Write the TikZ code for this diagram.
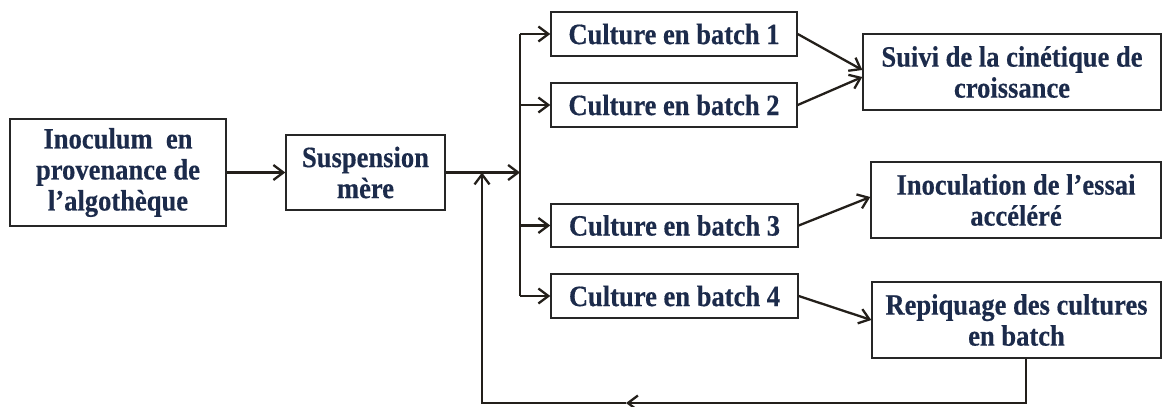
\documentclass[tikz,border=0pt]{standalone}
\usepackage{fontspec}
\setmainfont{Liberation Serif}[FakeStretch=0.9, BoldFeatures={FakeBold=0.4}]
\usetikzlibrary{arrows.meta,calc}
\definecolor{txt}{HTML}{1C2B4B}
\definecolor{ln}{HTML}{231F1A}
\begin{document}
\begin{tikzpicture}[x=1pt,y=-1pt,
  box/.style={draw=black!85, line width=1.4pt, fill=white, inner sep=0pt, align=center, text=txt, font=\fontsize{29.5}{31}\selectfont\bfseries},
  conn/.style={draw=ln, line width=2.3pt},
  arr/.style={conn, -{Straight Barb[length=10pt,width=15pt,line width=2.3pt]}}]
\useasboundingbox (0,0) rectangle (1163,407);
\node[box, minimum width=216pt, minimum height=107pt] (inoc) at (118,172.5) {Inoculum~ en\\provenance de\\l’algothèque};
\node[box, minimum width=159pt, minimum height=75pt] (susp) at (365.5,172.5) {Suspension\\mère};
\node[box, minimum width=246pt, minimum height=44pt] (b1) at (674,34) {Culture en batch 1};
\node[box, minimum width=246pt, minimum height=44pt] (b2) at (674,105) {Culture en batch 2};
\node[box, minimum width=247pt, minimum height=43pt] (b3) at (674.5,225.5) {Culture en batch 3};
\node[box, minimum width=247pt, minimum height=44pt] (b4) at (674.5,296) {Culture en batch 4};
\node[box, minimum width=298pt, minimum height=76pt] (suivi) at (1012,72) {Suivi de la cinétique de\\croissance};
\node[box, minimum width=290pt, minimum height=76pt] (inocul) at (1016,200) {Inoculation de l’essai\\accéléré};
\node[box, minimum width=289pt, minimum height=76pt] (repiq) at (1016.5,320) {Repiquage des cultures\\en batch};
\coordinate (tr) at (520,172.5);
\draw[arr] (inoc) -- (susp);
\draw[arr] (susp) -- (tr);
\draw[conn] (b1.west -| tr) -- (b4.west -| tr);
\foreach \b in {b1,b2,b3,b4} \draw[arr] (\b.west -| tr) -- (\b.west);
\draw[arr] (b1.east) -- ($(suivi.west)+(0,-2)$);
\draw[arr] (b2.east) -- ($(suivi.west)+(0,5)$);
\draw[arr] (b3.east) -- ($(inocul.west)+(0,-3)$);
\draw[arr] (b4.east) -- (repiq.west);
\coordinate (fbs) at ($(repiq.south)+(9.5,0)$);
\coordinate (fbm) at (626,403);
\coordinate (fbt) at (482,172.5);
\draw[arr] (fbs) |- (fbm);
\draw[arr] (fbm) -| (fbt);
\end{tikzpicture}
\end{document}
